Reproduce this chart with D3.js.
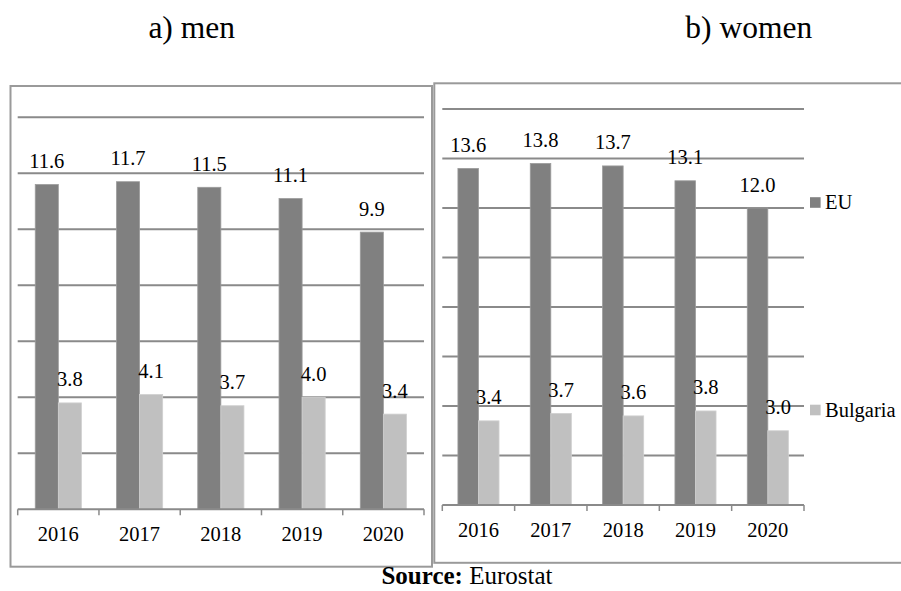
<!DOCTYPE html>
<html>
<head>
<meta charset="utf-8">
<script src="https://cdn.jsdelivr.net/npm/d3@7/dist/d3.min.js"></script>
<style>
  html, body { margin: 0; padding: 0; background: #fff; }
  svg { display: block; }
</style>
</head>
<body>
<svg id="chart" width="901" height="591"></svg>
<script>
const years = ["2016", "2017", "2018", "2019", "2020"];
const seriesNames = ["EU", "Bulgaria"];
const menEU = [11.6, 11.7, 11.5, 11.1, 9.9];
const menBulgaria = [3.8, 4.1, 3.7, 4.0, 3.4];
const womenEU = [13.6, 13.8, 13.7, 13.1, 12.0];
const womenBulgaria = [3.4, 3.7, 3.6, 3.8, 3.0];
const menTicks = [2, 4, 6, 8, 10, 12, 14];
const womenTicks = [2, 4, 6, 8, 10, 12, 14, 16];

const colors = { "EU": "#808080", "Bulgaria": "#c0c0c0" };
const gridColor = "#8a8a8a";
const frameColor = "#9a9a9a";

// pick an installed serif font
function pickFont() {
  const c = document.createElement("canvas").getContext("2d");
  const sample = "a) women Bulgaria 2016 11.6 Source: Eurostat";
  const widthOf = f => { c.font = "40px " + f; return c.measureText(sample).width; };
  const bases = ["monospace", "sans-serif"];
  const cands = ["Liberation Serif", "Tinos", "Times New Roman", "Times", "Noto Serif", "DejaVu Serif", "FreeSerif", "Nimbus Roman", "Nimbus Roman No9 L"];
  for (const f of cands) {
    const ok = bases.every(b => Math.abs(widthOf(`"${f}", ${b}`) - widthOf(b)) > 0.5);
    if (ok) return `"${f}", serif`;
  }
  return "serif";
}
const FONT = pickFont();

const svg = d3.select("#chart").style("font-family", FONT);

function panel(cfg) {
  const g = svg.append("g");
  g.append("rect")
    .attr("x", cfg.frame[0]).attr("y", cfg.frame[1])
    .attr("width", cfg.frame[2]).attr("height", cfg.frame[3])
    .attr("fill", "none").attr("stroke", frameColor).attr("stroke-width", 2);

  const x = d3.scaleBand().domain(years).range([cfg.x0, cfg.x1]).paddingInner(0).paddingOuter(0);
  const xs = d3.scaleBand().domain(seriesNames).range([0, x.bandwidth()]).paddingInner(0).paddingOuter(0.76);
  const y = d3.scaleLinear().domain([0, cfg.max]).range([cfg.yBase, cfg.yTop]);

  g.append("g").selectAll("line").data(cfg.ticks).join("line")
    .attr("x1", cfg.x0).attr("x2", cfg.x1)
    .attr("y1", d => y(d)).attr("y2", d => y(d))
    .attr("stroke", gridColor).attr("stroke-width", 2);

  const rows = years.map((yr, i) => ({ year: yr, EU: cfg.eu[i], Bulgaria: cfg.bg[i] }));

  const grp = g.append("g").selectAll("g").data(rows).join("g")
    .attr("transform", d => `translate(${x(d.year)},0)`);
  grp.selectAll("rect").data(d => seriesNames.map(s => ({ s, v: d[s] }))).join("rect")
    .attr("x", d => xs(d.s)).attr("width", xs.bandwidth())
    .attr("y", d => y(d.v)).attr("height", d => y(0) - y(d.v))
    .attr("fill", d => colors[d.s])
    .attr("stroke", d => d.s === "EU" ? "#9c9c9c" : "#d0d0d0").attr("stroke-width", 0.8);
  grp.selectAll("text").data(d => seriesNames.map(s => ({ s, v: d[s] }))).join("text")
    .attr("x", d => xs(d.s) + xs.bandwidth() / 2)
    .attr("y", d => y(d.v) - 16.5)
    .attr("text-anchor", "middle")
    .attr("font-size", 20.5)
    .attr("fill", "#000")
    .text(d => d.v.toFixed(1));

  const ax = g.append("g").attr("transform", `translate(0,${cfg.yBase})`)
    .call(d3.axisBottom(x).tickSize(0).tickPadding(0));
  ax.attr("font-family", FONT);
  ax.select(".domain").remove();
  ax.selectAll("text")
    .attr("font-size", 20.5).attr("fill", "#000")
    .attr("dy", null).attr("y", cfg.labelDy);
  g.append("line").attr("x1", cfg.x0).attr("x2", cfg.x1)
    .attr("y1", cfg.yBase).attr("y2", cfg.yBase)
    .attr("stroke", gridColor).attr("stroke-width", 2);
  const edges = years.map(d => x(d)).concat([x(years[years.length - 1]) + x.bandwidth()]);
  g.append("g").selectAll("line").data(edges).join("line")
    .attr("x1", d => d).attr("x2", d => d)
    .attr("y1", cfg.yBase).attr("y2", cfg.yBase + 6)
    .attr("stroke", gridColor).attr("stroke-width", 1.5);

  svg.append("text").attr("x", cfg.titleX).attr("y", 38)
    .attr("text-anchor", "middle").attr("font-size", 31.5).attr("fill", "#000")
    .text(cfg.title);
  return { x, y };
}

panel({
  frame: [10.5, 86, 421.5, 480.7],
  x0: 17.7, x1: 424, yBase: 509.3, yTop: 117.3, max: 14,
  ticks: menTicks, eu: menEU, bg: menBulgaria,
  labelDy: 32, title: "a) men", titleX: 191.7
});

panel({
  frame: [434.3, 83.3, 480, 479.5],
  x0: 442.3, x1: 804, yBase: 505, yTop: 109, max: 16,
  ticks: womenTicks, eu: womenEU, bg: womenBulgaria,
  labelDy: 32, title: "b) women", titleX: 748.8
});

const legendPos = [{ s: "EU", y: 202.5 }, { s: "Bulgaria", y: 410 }];
const lg = svg.append("g").selectAll("g").data(legendPos).join("g");
lg.append("rect").attr("x", 810).attr("y", d => d.y - 5.3).attr("width", 10.6).attr("height", 10.6)
  .attr("fill", d => colors[d.s]);
lg.append("text").attr("x", 825).attr("y", d => d.y + 6.5)
  .attr("font-size", 20.5).attr("fill", "#000").text(d => d.s);

const src = svg.append("text").attr("x", 467).attr("y", 584).attr("text-anchor", "middle")
  .attr("font-size", 25).attr("fill", "#000");
src.append("tspan").attr("font-weight", "bold").text("Source:");
src.append("tspan").text(" Eurostat");
</script>
</body>
</html>
